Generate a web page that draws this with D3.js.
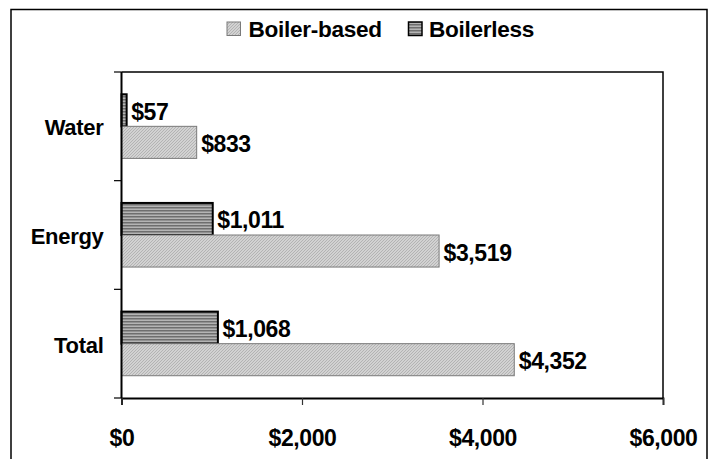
<!DOCTYPE html>
<html>
<head>
<meta charset="utf-8">
<script src="https://cdn.jsdelivr.net/npm/d3@7"></script>
<style>
  html, body { margin: 0; padding: 0; background: #fff; }
  svg { display: block; }
  text { font-family: "Liberation Sans", Arial, sans-serif; font-weight: bold; fill: #000; }
</style>
</head>
<body>
<svg id="chart" width="708" height="459"></svg>
<script>
const categories = ["Water", "Energy", "Total"];
const seriesNames = ["Boilerless", "Boiler-based"]; // top-to-bottom order within group
const boilerBased = [833, 3519, 4352];
const boilerless = [57, 1011, 1068];
const xTicks = [0, 2000, 4000, 6000];
const legendOrder = ["Boiler-based", "Boilerless"];

(function () {
const svg = d3.select("#chart");
const defs = svg.append("defs");

// Boiler-based: light gray fine diagonal hatch
const p1 = defs.append("pattern").attr("id", "patBased")
  .attr("patternUnits", "userSpaceOnUse").attr("width", 3).attr("height", 3);
p1.append("rect").attr("width", 3).attr("height", 3).attr("fill", "#d2d2d2");
p1.append("path").attr("d", "M0,3 L3,0 M-1,1 L1,-1 M2,4 L4,2")
  .attr("stroke", "#ababab").attr("stroke-width", 0.8);

// Boilerless: dark gray horizontal stripes
const p2 = defs.append("pattern").attr("id", "patLess")
  .attr("patternUnits", "userSpaceOnUse").attr("width", 4).attr("height", 3);
p2.append("rect").attr("width", 4).attr("height", 3).attr("fill", "#b4b4b4");
p2.append("rect").attr("width", 4).attr("height", 1.5).attr("fill", "#6e6e6e");

const fills = { "Boiler-based": "url(#patBased)", "Boilerless": "url(#patLess)" };
const strokes = { "Boiler-based": "#7a7a7a", "Boilerless": "#000" };
const strokeW = { "Boiler-based": 1, "Boilerless": 2 };
const values = { "Boiler-based": boilerBased, "Boilerless": boilerless };

// Outer chart border
svg.append("path").attr("d", "M11,459 L11,9.5 L707,9.5 L707,459")
  .attr("fill", "none").attr("stroke", "#000").attr("stroke-width", 1.5);

const pLeft = 121.5, pRight = 663, pTop = 72, pBottom = 398;

const x = d3.scaleLinear().domain([0, 6000]).range([pLeft, pRight]);
const y = d3.scaleBand().domain(categories).range([pTop, pBottom])
  .paddingInner(0.41).paddingOuter(0.205);
const ySub = d3.scaleBand().domain(seriesNames).range([0, y.bandwidth()]);

// Bars
const rows = [];
categories.forEach((c, i) => {
  seriesNames.forEach(s => rows.push({ cat: c, series: s, value: values[s][i] }));
});

const g = svg.append("g");
g.selectAll("rect.bar").data(rows).enter().append("rect")
  .attr("class", "bar")
  .attr("x", x(0))
  .attr("y", d => y(d.cat) + ySub(d.series))
  .attr("width", d => x(d.value) - x(0))
  .attr("height", ySub.bandwidth())
  .attr("fill", d => fills[d.series])
  .attr("stroke", d => strokes[d.series])
  .attr("stroke-width", d => strokeW[d.series]);

const fmt = v => "$" + d3.format(",")(v);

g.selectAll("text.val").data(rows).enter().append("text")
  .attr("class", "val")
  .attr("x", d => x(d.value) + 4.5)
  .attr("y", d => y(d.cat) + ySub(d.series) + ySub.bandwidth() / 2 + 9.5)
  .attr("font-size", 23)
  .attr("letter-spacing", -0.4)
  .text(d => fmt(d.value));

// Plot frame (top and right)
svg.append("path").attr("d", `M${pLeft},${pTop} L${pRight},${pTop} L${pRight},${pBottom}`)
  .attr("fill", "none").attr("stroke", "#000").attr("stroke-width", 1.5);

// X axis
const xAxis = d3.axisBottom(x).tickValues(xTicks).tickSize(7).tickFormat(fmt);
const xg = svg.append("g").attr("transform", `translate(0,${pBottom})`).call(xAxis);
xg.select(".domain").attr("stroke", "#000").attr("stroke-width", 1.8);
xg.selectAll(".tick line").attr("stroke", "#333").attr("stroke-width", 1.2);
xg.selectAll(".tick text")
  .attr("font-size", 23).attr("letter-spacing", -0.4)
  .attr("font-family", "Liberation Sans, Arial, sans-serif")
  .attr("font-weight", "bold").attr("fill", "#000")
  .attr("dy", null).attr("y", 47.5);

// Y axis (ticks at band boundaries)
const yg = svg.append("g");
yg.append("line").attr("x1", pLeft).attr("x2", pLeft).attr("y1", pTop).attr("y2", pBottom)
  .attr("stroke", "#000").attr("stroke-width", 2);
const yTickPos = categories.map((c, i) => pTop + i * y.step()).concat([pBottom]);
yg.selectAll("line.yt").data(yTickPos).enter().append("line")
  .attr("class", "yt")
  .attr("x1", pLeft - 7.5).attr("x2", pLeft)
  .attr("y1", d => d).attr("y2", d => d)
  .attr("stroke", "#000").attr("stroke-width", 1.2);
yg.selectAll("text.cat").data(categories).enter().append("text")
  .attr("class", "cat")
  .attr("x", 103.5)
  .attr("y", d => y(d) + y.bandwidth() / 2 + 9)
  .attr("text-anchor", "end")
  .attr("font-size", 22)
  .attr("letter-spacing", -0.3)
  .text(d => d);

// Legend
const legendX = { "Boiler-based": 227, "Boilerless": 408.5 };
const lg = svg.append("g");
legendOrder.forEach(s => {
  lg.append("rect")
    .attr("x", legendX[s]).attr("y", 22)
    .attr("width", 13.5).attr("height", 13.5)
    .attr("fill", fills[s])
    .attr("stroke", s === "Boilerless" ? "#000" : "#7a7a7a")
    .attr("stroke-width", s === "Boilerless" ? 1.5 : 1);
  lg.append("text")
    .attr("x", legendX[s] + (s === "Boilerless" ? 20.5 : 21.5))
    .attr("y", 36.5)
    .attr("font-size", 22.6)
    .attr("letter-spacing", -0.3)
    .text(s);
});
})();
</script>
</body>
</html>
